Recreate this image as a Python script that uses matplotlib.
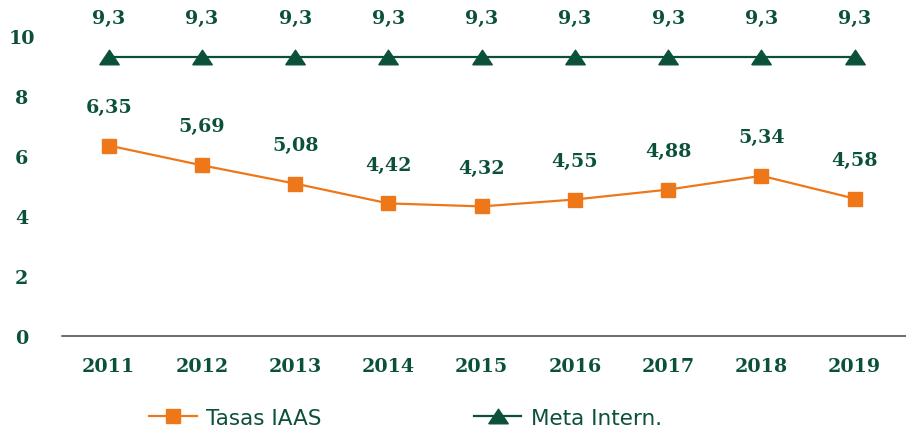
import numpy as np
import matplotlib.pyplot as plt
from matplotlib.lines import Line2D

years = ["2011", "2012", "2013", "2014", "2015", "2016", "2017", "2018", "2019"]
tasas = [6.35, 5.69, 5.08, 4.42, 4.32, 4.55, 4.88, 5.34, 4.58]
meta = [9.3, 9.3, 9.3, 9.3, 9.3, 9.3, 9.3, 9.3, 9.3]
yticks = [0, 2, 4, 6, 8, 10]

verde = "#0b5139"
naranja = "#ee7719"
serif = "DejaVu Serif"

fig = plt.figure(figsize=(9.06, 4.31), dpi=100)
ax = fig.add_axes([62/906, 94/431, 844/906, 300/431])

x = np.arange(len(years))
tri = [(-1, -0.75), (1, -0.75), (0, 0.75), (-1, -0.75)]

ax.plot(x, tasas, color=naranja, lw=1.6, marker="s", ms=9.5,
        label="Tasas IAAS", clip_on=False)
ax.plot(x, meta, color=verde, lw=1.6, marker=tri, ms=14,
        label="Meta Intern.", clip_on=False)

for xi, v in zip(x, tasas):
    ax.annotate(f"{v:.2f}".replace(".", ","), (xi, v), xytext=(0, 28),
                textcoords="offset points", ha="center", va="center",
                fontsize=13.8, fontweight="bold", family=serif, color=verde)
for xi, v in zip(x, meta):
    ax.annotate(f"{v:.1f}".replace(".", ","), (xi, v), xytext=(0, 28),
                textcoords="offset points", ha="center", va="center",
                fontsize=13.8, fontweight="bold", family=serif, color=verde)

ax.set_xlim(-0.5, 8.55)
ax.set_ylim(0, 10)
ax.set_xticks(x)
ax.set_xticklabels(years)
ax.set_yticks(yticks)
ax.set_yticklabels([str(t) for t in yticks], ha="center")
ax.tick_params(axis="both", length=0, labelsize=13.8, labelcolor=verde)
ax.tick_params(axis="x", pad=15)
ax.tick_params(axis="y", pad=29)
for lab in ax.get_xticklabels() + ax.get_yticklabels():
    lab.set_family(serif)
    lab.set_fontweight("bold")

for s in ["top", "right", "left"]:
    ax.spines[s].set_visible(False)
ax.spines["bottom"].set_color("#444444")
ax.spines["bottom"].set_linewidth(1.1)

h = [Line2D([], [], color=naranja, lw=1.6, marker="s", ms=9.5),
     Line2D([], [], color=verde, lw=1.6, marker=tri, ms=14)]
fig.legend(h, ["Tasas IAAS", "Meta Intern."], loc="center left",
           bbox_to_anchor=(130/906, 1 - 419/431), ncol=2, frameon=False,
           prop={"family": "DejaVu Sans", "size": 15.5}, labelcolor=verde,
           handlelength=2.2, handletextpad=0.42, columnspacing=7.1)

fig.savefig("out.png", dpi=100)
